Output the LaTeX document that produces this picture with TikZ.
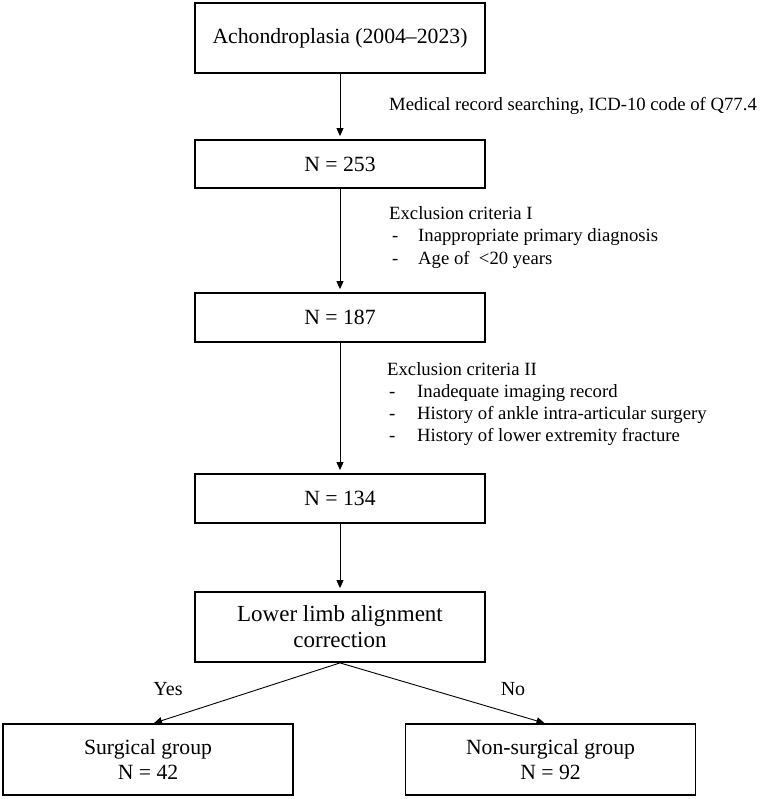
\documentclass[tikz,border=0pt]{standalone}
\usepackage{fontspec}
\setmainfont{Liberation Serif}
\usetikzlibrary{arrows.meta,calc}
\begin{document}
\begin{tikzpicture}[x=1pt,y=-1pt,
  boxnode/.style={draw,line width=1.8pt,minimum width=290pt,inner sep=0pt,align=center,font=\fontsize{21.7}{25}\selectfont},
  flowarrow/.style={line width=0.9pt,-{Triangle[length=8pt,width=7pt]}},
  annot/.style={anchor=base west,inner sep=0pt,font=\fontsize{18.7}{22}\selectfont},
  branchlabel/.style={inner sep=0pt,font=\fontsize{20}{24}\selectfont}]
\useasboundingbox (0,0) rectangle (760,799);
\node[boxnode,minimum height=70pt] (top) at (340,38) {Achondroplasia (2004–2023)};
\node[boxnode,minimum height=48pt] (n253) at (340,164) {N = 253};
\node[boxnode,minimum height=49pt] (n187) at (340,317.5) {N = 187};
\node[boxnode,minimum height=49pt] (n134) at (340,498.5) {N = 134};
\node[boxnode,minimum height=70pt,font=\fontsize{23}{26}\selectfont] (align) at (340,627) {Lower limb alignment\\correction};
\node[boxnode,minimum height=71pt] (surg) at (148,759.5) {Surgical group\\N = 42};
\node[boxnode,minimum height=71pt] (nons) at (550.5,759.5) {Non-surgical group\\N = 92};

\draw[flowarrow,shorten >=3pt] (top) -- (n253);
\draw[flowarrow,shorten >=3pt] (n253) -- (n187);
\draw[flowarrow,shorten >=3pt] (n187) -- (n134);
\draw[flowarrow,shorten >=3pt] (n134) -- (align);
\draw[flowarrow] (align.south) -- ($(surg.north)+(6,0)$);
\draw[flowarrow] (align.south) -- ($(nons.north)+(-6,0)$);

\node[branchlabel] (yes) at (168,689) {Yes};
\node[branchlabel] (no) at (513,689) {No};

\node[annot] (med) at (389,111) {Medical record searching, ICD-10 code of Q77.4};

\node[annot] (ex1) at (389,220) {Exclusion criteria I};
\node[annot] (ex1a) at (389,242) {\makebox[29pt][l]{\hspace{3pt}-}Inappropriate primary diagnosis};
\node[annot] (ex1b) at (389,264.5) {\makebox[29pt][l]{\hspace{3pt}-}Age of~ <20 years};

\node[annot] (ex2) at (387,375) {Exclusion criteria II};
\node[annot] (ex2a) at (387,397) {\makebox[30pt][l]{\hspace{2pt}-}Inadequate imaging record};
\node[annot] (ex2b) at (387,419) {\makebox[30pt][l]{\hspace{2pt}-}History of ankle intra-articular surgery};
\node[annot] (ex2c) at (387,441) {\makebox[30pt][l]{\hspace{2pt}-}History of lower extremity fracture};
\end{tikzpicture}
\end{document}
